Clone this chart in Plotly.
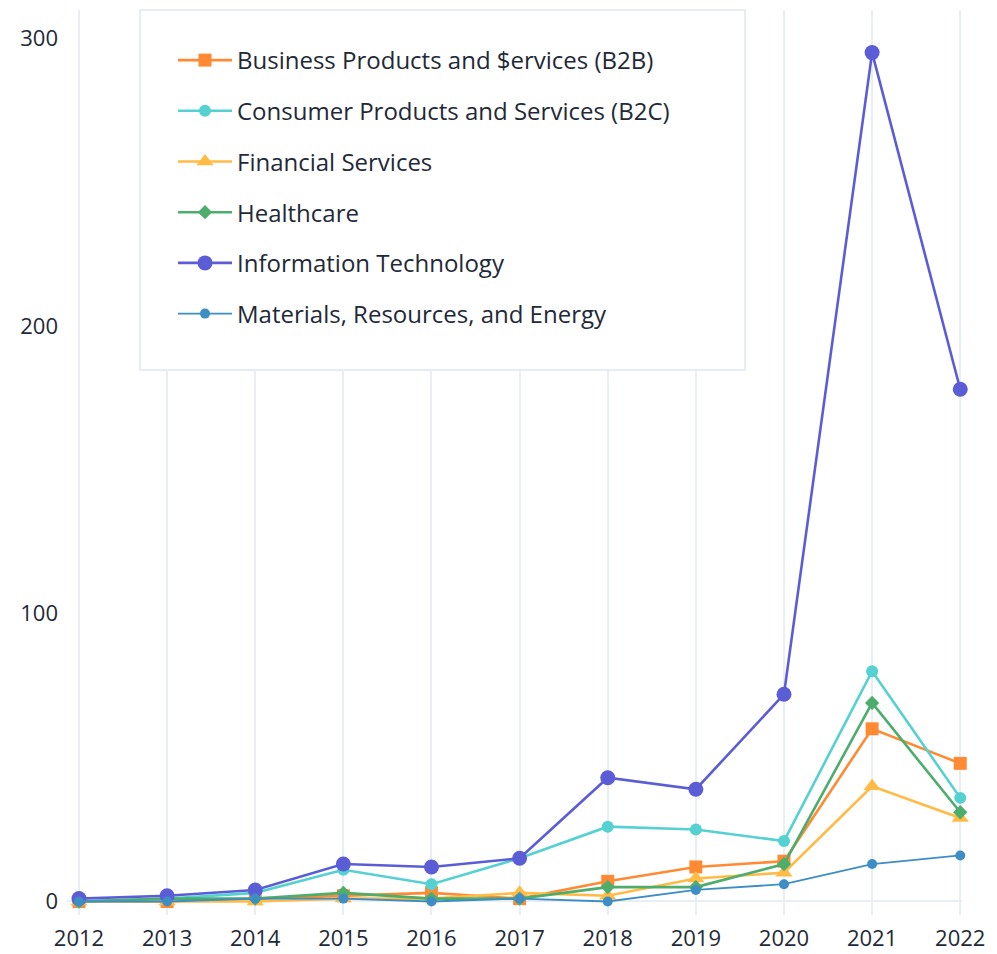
import plotly.graph_objects as go

years = [2012, 2013, 2014, 2015, 2016, 2017, 2018, 2019, 2020, 2021, 2022]

b2b = [0, 0, 1, 2, 3, 1, 7, 12, 14, 60, 48]
b2c = [0, 1, 3, 11, 6, 15, 26, 25, 21, 80, 36]
financial = [0, 0, 0, 1, 1, 3, 2, 8, 10, 40, 29]
healthcare = [0, 1, 1, 3, 1, 1, 5, 5, 13, 69, 31]
it = [1, 2, 4, 13, 12, 15, 43, 39, 72, 295, 178]
materials = [0, 0, 1, 1, 0, 1, 0, 4, 6, 13, 16]

names = [
    "Business Products and $ervices (B2B)",
    "Consumer Products and Services (B2C)",
    "Financial Services",
    "Healthcare",
    "Information Technology",
    "Materials, Resources, and Energy",
]
series = [b2b, b2c, financial, healthcare, it, materials]
colors = ["#FF8A33", "#55D1D1", "#FFBB45", "#4CAD6C", "#5B5DD6", "#3D8EC5"]
symbols = ["square", "circle", "triangle-up", "diamond", "circle", "circle"]
msizes = [13, 12, 15, 11, 15, 10]
lwidths = [2.6, 2.6, 2.6, 2.6, 2.6, 1.8]

FONT = "Open Sans"
TXT = "#1f2937"

fig = go.Figure()
for i, (n, s) in enumerate(zip(names, series)):
    fig.add_trace(go.Scatter(
        x=years, y=s, name=n, mode="lines+markers",
        line=dict(color=colors[i], width=lwidths[i]),
        marker=dict(symbol=symbols[i], size=msizes[i], color=colors[i]),
        legendgroup=f"g{i}", cliponaxis=False,
    ))

OFF = 8  # page body margin
L, R, T, B = 67 - OFF, 962 - OFF, 10 - OFF, 915 - OFF
W, H = 997 - OFF, 954 - OFF

def px_x(p):
    return (p - OFF - L) / (R - L)

def px_y(p):
    return (B - (p - OFF)) / (B - T)

fig.add_shape(type="rect", xref="paper", yref="paper",
              x0=px_x(140), x1=px_x(745), y0=px_y(370), y1=px_y(10),
              line=dict(color="#E8EDF4", width=2), fillcolor="white", layer="above")

fig.update_layout(
    width=W, height=H,
    margin=dict(l=L, r=W - R, t=T, b=H - B, pad=0, autoexpand=False),
    paper_bgcolor="white", plot_bgcolor="white",
    font=dict(family=FONT, size=22, color=TXT),
    showlegend=True,
    legend=dict(
        x=px_x(173), y=px_y(38), xanchor="left", yanchor="top",
        bgcolor="rgba(0,0,0,0)", borderwidth=0,
        font=dict(family=FONT, size=24, color=TXT),
        tracegroupgap=16.5, traceorder="grouped", itemwidth=54,
    ),
    xaxis=dict(
        range=[2011.864, 2022.02], tickmode="array", tickvals=years,
        ticktext=[str(y) for y in years], automargin=False,
        showgrid=True, gridcolor="#E9EEF5", gridwidth=2,
        zeroline=False, showline=False, ticks="", ticklabelstandoff=8,
        tickfont=dict(family=FONT, size=22, color=TXT),
    ),
    yaxis=dict(
        range=[-4.7, 309.8], tickvals=[0, 100, 200, 300], automargin=False,
        showgrid=False, zeroline=True, zerolinecolor="#E9EEF5", zerolinewidth=2,
        showline=False, ticks="", ticklabelstandoff=8,
        tickfont=dict(family=FONT, size=22, color=TXT),
    ),
)

fig.write_html("out.html")
